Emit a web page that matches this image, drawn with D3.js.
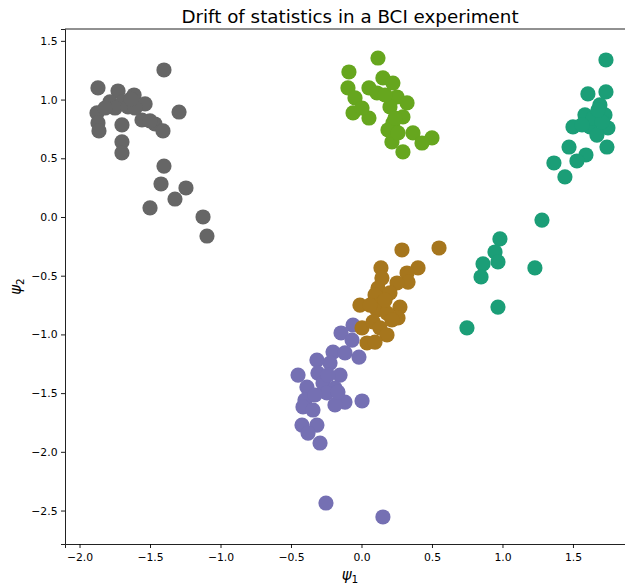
<!DOCTYPE html>
<html>
<head>
<meta charset="utf-8">
<script src="https://cdn.jsdelivr.net/npm/d3@7"></script>
<style>
  body { margin: 0; background: #fff; }
  text { font-family: "DejaVu Sans", sans-serif; }
</style>
</head>
<body>
<svg id="chart" width="625" height="586"></svg>
<script>
// ---- data (psi1, psi2) per group ----
const groupNames = ["teal", "purple", "green", "brown", "gray"];
const groupColors = ["#1b9e77", "#7570b3", "#66a61e", "#a6761d", "#666666"];

const tealX = [1.734,1.606,1.734,1.691,1.585,1.727,1.500,1.621,1.748,1.670,1.741,1.472,1.592,1.528,1.365,1.443,1.280,0.982,0.947,0.968,0.862,0.848,1.230,0.968,0.748,1.642,1.564,1.706,1.677];
const tealY = [1.337,1.048,1.065,0.954,0.869,0.869,0.767,0.767,0.758,0.698,0.596,0.596,0.528,0.477,0.460,0.341,-0.026,-0.187,-0.298,-0.383,-0.400,-0.511,-0.434,-0.767,-0.945,0.843,0.784,0.809,0.911];

const purpleX = [-0.060,-0.145,-0.067,-0.202,-0.117,-0.316,-0.018,-0.223,-0.309,-0.152,-0.450,-0.273,-0.387,-0.188,-0.245,-0.117,0.004,-0.401,-0.188,-0.415,-0.344,-0.422,-0.316,-0.379,-0.294,-0.252,0.152,-0.238,-0.167,-0.330];
const purpleY = [-0.920,-0.988,-1.048,-1.150,-1.158,-1.218,-1.193,-1.244,-1.329,-1.346,-1.346,-1.414,-1.448,-1.457,-1.499,-1.576,-1.567,-1.559,-1.601,-1.618,-1.644,-1.772,-1.772,-1.840,-1.925,-2.436,-2.555,-1.346,-1.491,-1.516];

const greenX = [0.117,-0.089,0.152,0.223,-0.096,0.053,0.110,-0.046,0.252,0.323,-0.060,0.053,0.202,0.223,0.294,0.365,0.500,0.429,0.216,0.294,0.188,0.259,0.004,0.167,0.238];
const greenY = [1.354,1.235,1.184,1.141,1.099,1.099,1.056,1.014,1.022,0.971,0.886,0.843,0.937,0.801,0.852,0.716,0.673,0.630,0.639,0.554,0.741,0.716,0.928,1.039,0.843];

const brownX = [0.287,0.550,0.138,0.401,0.145,0.323,0.330,0.252,0.117,0.096,0.202,0.152,-0.011,0.273,0.110,0.181,0.259,0.004,0.082,0.131,0.181,0.039,0.096,0.167,0.216,0.060];
const brownY = [-0.281,-0.264,-0.434,-0.434,-0.520,-0.477,-0.554,-0.562,-0.605,-0.664,-0.647,-0.724,-0.750,-0.767,-0.792,-0.818,-0.860,-0.945,-0.894,-0.945,-1.005,-1.073,-1.065,-0.707,-0.877,-0.750];

const grayX = [-1.401,-1.869,-1.727,-1.613,-1.784,-1.691,-1.535,-1.876,-1.294,-1.748,-1.656,-1.869,-1.699,-1.557,-1.465,-1.408,-1.862,-1.699,-1.699,-1.401,-1.422,-1.245,-1.323,-1.500,-1.124,-1.096,-1.819,-1.606,-1.635,-1.500];
const grayY = [1.252,1.099,1.073,1.039,0.980,0.980,0.963,0.886,0.894,0.928,0.937,0.801,0.784,0.826,0.792,0.733,0.733,0.639,0.545,0.434,0.281,0.247,0.153,0.077,0.000,-0.162,0.928,0.928,1.005,0.818];

const xTicks = [-2.0,-1.5,-1.0,-0.5,0.0,0.5,1.0,1.5];
const yTicks = [-2.5,-2.0,-1.5,-1.0,-0.5,0.0,0.5,1.0,1.5];
const titleText = "Drift of statistics in a BCI experiment";

const groupXs = [tealX, purpleX, greenX, brownX, grayX];
const groupYs = [tealY, purpleY, greenY, brownY, grayY];

// ---- layout ----
const svg = d3.select("#chart");
const mLeft = 65, mRight = 635, mTop = 29, mBottom = 544;
const x = d3.scaleLinear().domain([-2.103, 1.94]).range([mLeft, mRight]);
const y = d3.scaleLinear().domain([-2.785, 1.601]).range([mBottom, mTop]);
const fmt = d3.format(".1f");

// points
groupNames.forEach((g, gi) => {
  const pts = groupXs[gi].map((v, i) => ({ x: v, y: groupYs[gi][i] }));
  svg.append("g").selectAll("circle").data(pts).join("circle")
    .attr("cx", d => x(d.x)).attr("cy", d => y(d.y))
    .attr("r", 7.6).attr("fill", groupColors[gi]);
});

// axes
const xAxis = svg.append("g").attr("transform", `translate(0,${mBottom})`)
  .call(d3.axisBottom(x).tickValues(xTicks).tickFormat(fmt).tickSizeOuter(0).tickSize(4).tickPadding(5.5));
const yAxis = svg.append("g").attr("transform", `translate(${mLeft},0)`)
  .call(d3.axisLeft(y).tickValues(yTicks).tickFormat(fmt).tickSizeOuter(0).tickSize(4).tickPadding(3.5));
[xAxis, yAxis].forEach(a => {
  a.selectAll("text").attr("font-size", 10.8).attr("fill", "#000").attr("font-family", "DejaVu Sans, sans-serif");
  a.selectAll(".tick line").attr("stroke", "#000").attr("stroke-width", 0.9);
  a.select(".domain").attr("stroke", "#222").attr("stroke-width", 1);
});
// top spine and right spine
svg.append("line").attr("x1", mLeft).attr("x2", mRight).attr("y1", mTop).attr("y2", mTop)
  .attr("stroke", "#222").attr("stroke-width", 1);
svg.append("line").attr("x1", mRight).attr("x2", mRight).attr("y1", mTop).attr("y2", mBottom)
  .attr("stroke", "#222").attr("stroke-width", 1);

// title
svg.append("text").attr("x", (mLeft + mRight) / 2).attr("y", 22.7)
  .attr("text-anchor", "middle").attr("font-size", 18.3).attr("fill", "#000").text(titleText);

// axis labels
const xl = svg.append("text").attr("x", (mLeft + mRight) / 2).attr("y", 580)
  .attr("text-anchor", "middle").attr("font-size", 15).attr("fill", "#000")
  .attr("font-family", "DejaVu Serif, serif").attr("font-style", "italic");
xl.append("tspan").text("ψ");
xl.append("tspan").attr("font-size", 10.5).attr("dy", 3).attr("font-style", "normal").attr("font-family", "DejaVu Sans, sans-serif").text("1");

const yl = svg.append("text").attr("transform", `translate(21,${(mTop + mBottom) / 2}) rotate(-90)`)
  .attr("text-anchor", "middle").attr("font-size", 15).attr("fill", "#000")
  .attr("font-family", "DejaVu Serif, serif").attr("font-style", "italic");
yl.append("tspan").text("ψ");
yl.append("tspan").attr("font-size", 10.5).attr("dy", 3).attr("font-style", "normal").attr("font-family", "DejaVu Sans, sans-serif").text("2");
</script>
</body>
</html>
